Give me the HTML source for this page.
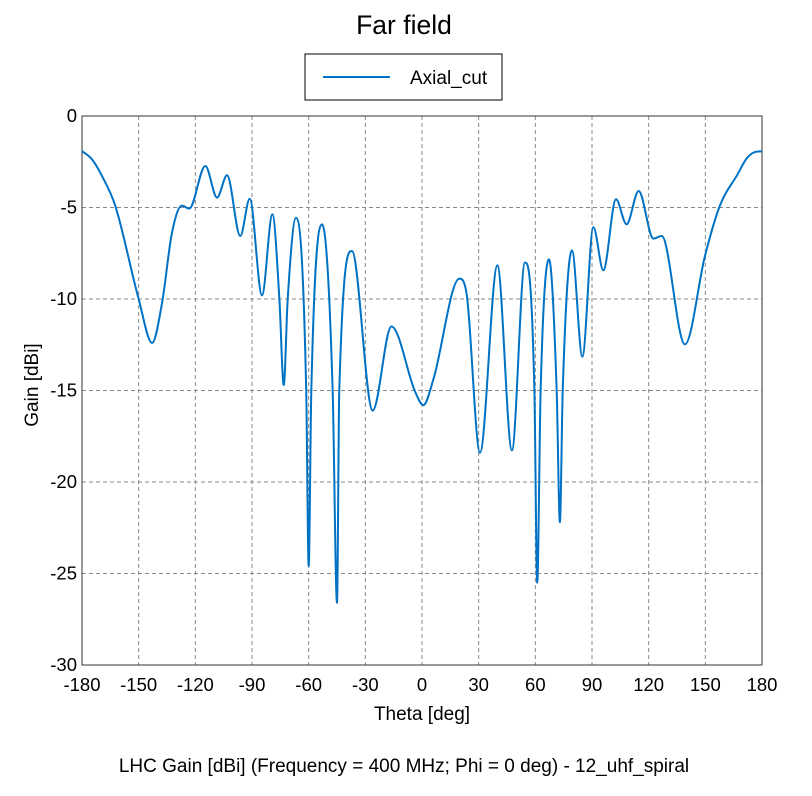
<!DOCTYPE html>
<html><head><meta charset="utf-8"><style>
body{margin:0;background:#fff;font-family:"Liberation Sans",Arial,sans-serif}
svg text{font-family:"Liberation Sans",Arial,sans-serif;fill:#000}
</style></head><body>
<svg id="chart" width="812" height="791" xmlns="http://www.w3.org/2000/svg">
<rect width="812" height="791" fill="#fff"/>
<text x="404" y="34" font-size="26.5" text-anchor="middle">Far field</text>
<g>
<rect x="305" y="54" width="197" height="46" fill="#fff" stroke="#000" stroke-width="1"/>
<line x1="323" y1="77" x2="390" y2="77" stroke="#0072c6" stroke-width="2"/>
<text x="410" y="84" font-size="19">Axial_cut</text>
</g>
<g id="grid"></g>
<g id="ticks"></g>
<rect x="82" y="116" width="680" height="549" fill="none" stroke="#333" stroke-width="1"/>
<path id="curve" fill="none" stroke="#0072c6" stroke-width="2"/>
<text transform="translate(38,385) rotate(-90)" font-size="19" text-anchor="middle">Gain [dBi]</text>
<text x="422" y="720" font-size="19" text-anchor="middle">Theta [deg]</text>
<text x="404" y="772" font-size="19" text-anchor="middle">LHC Gain [dBi] (Frequency = 400 MHz; Phi = 0 deg) - 12_uhf_spiral</text>
</svg>
<script>
const xTicks=[-180,-150,-120,-90,-60,-30,0,30,60,90,120,150,180];
const yTicks=[0,-5,-10,-15,-20,-25,-30];
const theta=[-180,-174.7,-169.4,-162.4,-150,-142.9,-137.6,-132.4,-127.1,-123.2,-114.7,-108.5,-103.2,-96.2,-91.2,-84.7,-79.2,-75.5,-73.2,-71.1,-66.7,-61.3,-60,-58.6,-52.9,-47.3,-45,-43.8,-37.1,-26.1,-16.2,-3.5,0.7,6,19.8,23.6,30.7,39.9,47.6,54.5,59.5,61,62.8,67.2,71.3,73,74.5,79.4,84.9,90.7,96,102.7,108.3,114.7,122.5,126.9,139.2,149.8,157.7,167,172,177,180];
const gain=[-1.91,-2.37,-3.28,-4.9,-10,-12.4,-10.2,-6.4,-4.9,-5.06,-2.73,-4.46,-3.24,-6.56,-4.52,-9.8,-5.37,-10,-14.7,-10,-5.56,-15,-24.6,-15,-5.92,-15,-26.6,-15,-7.38,-16.1,-11.5,-15.1,-15.8,-14.4,-8.89,-9.7,-18.4,-8.16,-18.27,-8.01,-15,-25.5,-15,-7.83,-15,-22.2,-15,-7.34,-13.15,-6.07,-8.43,-4.55,-5.92,-4.1,-6.7,-6.56,-12.48,-7.65,-4.9,-3.2,-2.3,-1.95,-1.93];
const L=82,T=116,W=680,H=549;
const xs=v=>L+(v+180)/360*W, ys=v=>T+(-v)/30*H;
const NS='http://www.w3.org/2000/svg';
const grid=document.getElementById('grid'),tk=document.getElementById('ticks');
xTicks.forEach(v=>{
 if(v>-180&&v<180){const l=document.createElementNS(NS,'line');
 
 
 l.setAttribute('x1',xs(v));l.setAttribute('x2',xs(v));l.setAttribute('y1',T);l.setAttribute('y2',T+H);
 l.setAttribute('stroke','#888');l.setAttribute('stroke-dasharray','4,3');grid.appendChild(l);}
 const t=document.createElementNS(NS,'text');
 
 
 t.setAttribute('x',xs(v));t.setAttribute('y',T+H+26);t.setAttribute('font-size','18.5');t.setAttribute('text-anchor','middle');
 t.textContent=v;tk.appendChild(t);
});
yTicks.forEach(v=>{
 if(v<0&&v>-30){const l=document.createElementNS(NS,'line');
 
 
 l.setAttribute('x1',L);l.setAttribute('x2',L+W);l.setAttribute('y1',ys(v));l.setAttribute('y2',ys(v));
 l.setAttribute('stroke','#888');l.setAttribute('stroke-dasharray','4,3');grid.appendChild(l);}
 const t=document.createElementNS(NS,'text');
 
 
 t.setAttribute('x',L-5);t.setAttribute('y',ys(v)+6);t.setAttribute('font-size','18.5');t.setAttribute('text-anchor','end');
 t.textContent=v;tk.appendChild(t);
});
const n=theta.length,X=theta.map(xs),Y=gain.map(ys);
const d=[],m=[];
for(let i=0;i<n-1;i++)d.push((Y[i+1]-Y[i])/(X[i+1]-X[i]));
m[0]=d[0];m[n-1]=0;
for(let i=1;i<n-1;i++){m[i]=(d[i-1]*d[i]<=0)?0:(d[i-1]+d[i])/2;}
for(let i=0;i<n-1;i++){if(d[i]===0){m[i]=m[i+1]=0;continue;}const a=m[i]/d[i],b=m[i+1]/d[i],s=a*a+b*b;if(s>9){const t=3/Math.sqrt(s);m[i]=t*a*d[i];m[i+1]=t*b*d[i];}}
let p='M'+X[0]+','+Y[0];
for(let i=0;i<n-1;i++){const h=(X[i+1]-X[i])/3;p+=' C'+(X[i]+h)+','+(Y[i]+m[i]*h)+' '+(X[i+1]-h)+','+(Y[i+1]-m[i+1]*h)+' '+X[i+1]+','+Y[i+1];}
document.getElementById('curve').setAttribute('d',p);
</script>
</body></html>
